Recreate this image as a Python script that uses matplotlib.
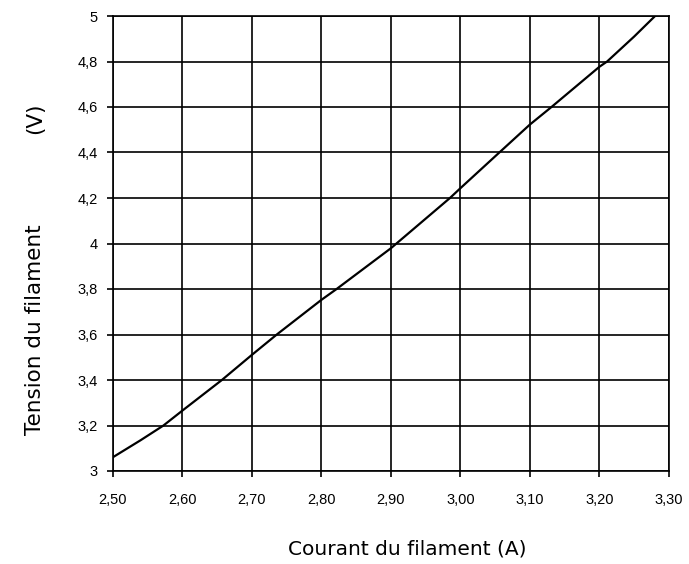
import numpy as np
import matplotlib.pyplot as plt

# courant (A) et tension (V)
courant = [2.50, 2.54, 2.573, 2.60, 2.657, 2.70, 2.736, 2.80, 2.822, 2.90, 2.985,
           3.00, 3.056, 3.10, 3.131, 3.20, 3.211, 3.25, 3.28]
tension = [3.06, 3.135, 3.20, 3.265, 3.40, 3.51, 3.60, 3.752, 3.80, 3.979, 4.20,
           4.243, 4.40, 4.523, 4.60, 4.777, 4.80, 4.91, 5.0]

xticks = [2.50, 2.60, 2.70, 2.80, 2.90, 3.00, 3.10, 3.20, 3.30]
xlabels = ['2,50', '2,60', '2,70', '2,80', '2,90', '3,00', '3,10', '3,20', '3,30']
yticks = [3, 3.2, 3.4, 3.6, 3.8, 4, 4.2, 4.4, 4.6, 4.8, 5]
ylabels = ['3', '3,2', '3,4', '3,6', '3,8', '4', '4,2', '4,4', '4,6', '4,8', '5']

fig = plt.figure(figsize=(6.89, 5.64), dpi=100)
ax = fig.add_axes([112.7 / 689, 93 / 564, (669 - 112.7) / 689, (471 - 16) / 564])

ax.plot(courant, tension, c='k', lw=1.6)

ax.set_xlim(2.50, 3.30)
ax.set_ylim(3, 5)
ax.set_xticks(xticks)
ax.set_xticklabels(xlabels, family='Liberation Sans', fontsize=10.5)
ax.set_yticks(yticks)
ax.set_yticklabels(ylabels, family='Liberation Sans', fontsize=10.5)
ax.tick_params(direction='out', length=4, width=1.2, color='k')
ax.tick_params(axis='x', pad=12)
ax.tick_params(axis='y', pad=7)
ax.grid(True, color='k', lw=1.2)
for s in ax.spines.values():
    s.set_linewidth(1.2)
    s.set_color('k')

fig.text(407 / 689, 1 - 549 / 564, 'Courant du filament (A)', ha='center', va='center',
         family='DejaVu Sans', fontsize=14.5)
fig.text(35 / 689, 1 - 330 / 564, 'Tension du filament', ha='center', va='center',
         rotation=90, family='DejaVu Sans', fontsize=15.5)
fig.text(35 / 689, 1 - 118 / 564, '(V)', ha='center', va='center',
         rotation=90, family='DejaVu Sans', fontsize=15.5)

fig.savefig('out.png', dpi=100)
